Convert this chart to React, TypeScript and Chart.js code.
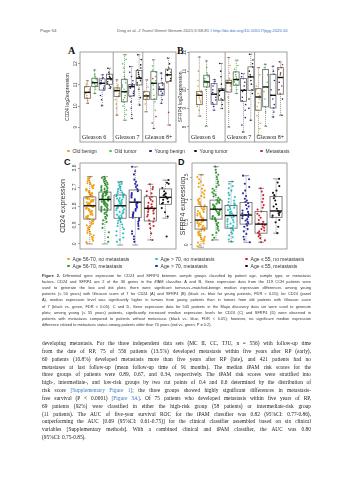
import React, { useEffect, useRef } from "react";
import { Chart, registerables } from "chart.js";
Chart.register(...registerables);

// ================= DATA =================
const gleasonGroups = ["Gleason 6", "Gleason 7", "Gleason 8+"];
const legendAB = ["Old benign", "Old tumor", "Young benign", "Young tumor", "Metastasis"];
const legendCD = [
  "Age 56-70, no metastasis",
  "Age > 70, no metastasis",
  "Age \u2264 55, no metastasis",
  "Age 56-70, metastasis",
  "Age > 70, metastasis",
  "Age \u2264 55, metastasis",
];

const ticksA = [9, 10, 11, 12];
const ticksB = [8, 9, 10, 11, 12];
const ticksC = [0, 0.9, 1.8, 2.7, 3.6];
const ticksD = [0, 0.5, 1, 1.5];
const tickLabelsA = ["9", "10", "11", "12"];
const tickLabelsB = ["8", "9", "10", "11", "12"];
const tickLabelsC = ["0", "0.9", "1.8", "2.7", "3.6"];
const tickLabelsD = ["0", "0.5", "1", "1.5"];

// legend kind of each box (index into legendAB): Gleason 6 | Gleason 7 | Gleason 8+
const kindAB = [0, 1, 2, 3, 0, 1, 2, 3, 0, 1, 2, 3];
// legend kind of each box in C/D (index into legendCD)
const kindCD = [0, 3, 1, 4, 2, 5];

// box statistics: [low whisker, Q1, median, Q3, high whisker]
const statsA = [
  [10.13, 10.37, 10.65, 10.92, 11.2],
  [10.6, 10.92, 11.11, 11.32, 11.71],
  [10.02, 10.76, 11.08, 11.29, 11.48],
  [10.84, 11.03, 11.29, 11.51, 11.79],
  [9.57, 10.45, 10.73, 10.86, 11.24],
  [9.33, 10.2, 10.68, 11.27, 12.43],
  [9.41, 10.48, 10.92, 11.02, 11.87],
  [10.05, 11.0, 11.32, 11.68, 12.43],
  [9.73, 10.32, 10.48, 10.68, 11.24],
  [8.94, 10.32, 11.08, 11.63, 12.19],
  [10.13, 10.52, 10.8, 11.08, 11.56],
  [9.1, 11.16, 11.48, 11.75, 12.27],
];
const dotsA = [
  [11.2, 11.05, 10.95, 10.9, 10.8, 10.7, 10.65, 10.6, 10.5, 10.4, 10.35, 10.25, 10.13],
  [11.71, 11.5, 11.4, 11.32, 11.25, 11.15, 11.1, 11.05, 10.98, 10.92, 10.8, 10.6],
  [11.48, 11.35, 11.3, 11.2, 11.1, 11.05, 10.95, 10.85, 10.76, 10.5, 10.3, 10.02],
  [11.79, 11.6, 11.5, 11.4, 11.35, 11.3, 11.25, 11.15, 11.05, 11.0, 10.9, 10.84],
  [11.24, 11.0, 10.9, 10.85, 10.8, 10.75, 10.72, 10.7, 10.6, 10.5, 10.45, 10.3, 10.1, 9.9, 9.57],
  [12.43, 12.2, 12.0, 11.8, 11.6, 11.4, 11.3, 11.25, 11.1, 11.0, 10.9, 10.8, 10.7, 10.65, 10.5, 10.4, 10.3, 10.2, 10.0, 9.8, 9.6, 9.33],
  [11.87, 11.6, 11.4, 11.2, 11.05, 11.0, 10.97, 10.93, 10.9, 10.85, 10.7, 10.6, 10.5, 10.45, 10.2, 9.9, 9.6, 9.41],
  [12.43, 12.2, 11.95, 11.8, 11.7, 11.6, 11.5, 11.4, 11.35, 11.3, 11.2, 11.1, 11.0, 10.8, 10.4, 10.05],
  [11.24, 10.9, 10.7, 10.65, 10.55, 10.5, 10.45, 10.4, 10.35, 10.3, 10.1, 9.73],
  [12.19, 11.9, 11.7, 11.6, 11.4, 11.2, 11.1, 11.0, 10.8, 10.5, 10.35, 10.2, 9.8],
  [11.56, 11.3, 11.1, 11.0, 10.9, 10.8, 10.7, 10.6, 10.5, 10.3, 10.13],
  [12.0, 11.8, 11.7, 11.5, 11.45, 11.3, 11.2],
];
const metDotsA = [[], [], [], [], [], [], [], [], [], [11.3, 9.5, 9.2, 8.94], [], [12.27, 11.6, 11.1, 9.7, 9.1]];

const statsB = [
  [8.58, 9.2, 9.7, 9.9, 11.76],
  [8.04, 10.15, 10.42, 10.78, 11.55],
  [8.9, 9.22, 9.76, 10.33, 10.55],
  [8.99, 9.44, 9.97, 10.06, 11.41],
  [8.0, 9.88, 10.37, 10.51, 11.73],
  [9.8, 10.24, 10.55, 10.96, 11.59],
  [7.73, 9.38, 9.97, 10.6, 10.87],
  [8.36, 9.97, 10.69, 11.23, 11.91],
  [7.55, 8.9, 9.61, 10.06, 11.19],
  [8.04, 9.08, 10.15, 11.09, 11.37],
  [8.54, 9.02, 9.7, 10.83, 11.26],
  [8.63, 9.76, 10.66, 11.19, 11.5],
];
const dotsB = [
  [11.76, 11.0, 10.5, 10.2, 9.95, 9.9, 9.85, 9.8, 9.75, 9.7, 9.6, 9.5, 9.4, 9.3, 9.2, 9.1, 8.9, 8.58],
  [11.55, 11.2, 10.9, 10.8, 10.7, 10.6, 10.5, 10.45, 10.4, 10.35, 10.25, 10.15, 10.0, 8.04],
  [10.55, 10.45, 10.33, 10.2, 10.0, 9.85, 9.76, 9.6, 9.45, 9.3, 9.22, 9.1, 8.9],
  [11.41, 11.0, 10.7, 10.3, 10.06, 10.0, 9.97, 9.9, 9.7, 9.5, 9.44, 9.2, 8.99],
  [11.73, 11.3, 10.9, 10.6, 10.5, 10.45, 10.4, 10.37, 10.3, 10.2, 10.0, 9.9, 9.6, 9.3, 8.8, 8.0],
  [11.59, 11.3, 11.1, 10.96, 10.8, 10.7, 10.6, 10.55, 10.5, 10.45, 10.4, 10.3, 10.24, 10.0, 9.8],
  [10.87, 10.7, 10.6, 10.4, 10.2, 10.0, 9.97, 9.9, 9.6, 9.4, 9.2, 8.9, 8.5, 8.1, 7.73],
  [11.91, 11.6, 11.4, 11.23, 11.0, 10.8, 10.69, 10.5, 10.3, 10.0, 9.8, 9.5, 9.0, 8.36],
  [11.19, 10.8, 10.2, 10.0, 9.8, 9.7, 9.61, 9.5, 9.3, 9.1, 8.9, 8.6, 8.2, 7.9, 7.55],
  [11.37, 11.2, 11.09, 10.8, 10.4, 10.15, 9.9, 9.5, 9.1, 8.8, 8.04],
  [11.26, 11.0, 10.83, 10.5, 10.0, 9.7, 9.5, 9.2, 9.02, 8.8, 8.54],
  [11.19, 10.9, 10.66, 10.4, 10.0, 9.5, 8.63],
];
const metDotsB = [[], [], [], [], [], [], [], [], [], [], [], [11.5, 11.35, 11.1, 10.8, 10.2, 9.8]];

const statsC = [
  [0.0, 1.18, 1.81, 2.23, 3.19],
  [0.0, 1.61, 2.11, 2.46, 3.19],
  [-0.05, 1.22, 1.81, 2.32, 2.95],
  [-0.05, 1.25, 1.98, 2.56, 3.66],
  [0.19, 1.09, 1.69, 2.24, 2.83],
  [1.22, 1.88, 2.21, 2.61, 3.03],
];
const dotsC = [
  [3.19, 3.08, 2.97, 2.88, 2.79, 2.71, 2.64, 2.58, 2.5, 2.44, 2.38, 2.33, 2.29, 2.25, 2.21, 2.17, 2.12, 2.08, 2.04, 2.0, 1.96, 1.92, 1.88, 1.84, 1.81, 1.78, 1.74, 1.7, 1.65, 1.6, 1.55, 1.49, 1.43, 1.37, 1.3, 1.24, 1.18, 1.1, 1.02, 0.93, 0.84, 0.74, 0.63, 0.52, 0.4, 0.28, 0.15, 0.04,
    3.14, 3.02, 2.92, 2.84, 2.75, 2.67, 2.61, 2.54, 2.47, 2.41, 2.36, 2.31, 2.27, 2.23, 2.19, 2.14, 2.1, 2.06, 2.02, 1.98, 1.94, 1.9, 1.86, 1.82, 1.79, 1.76, 1.72, 1.67, 1.62, 1.57, 1.52, 1.46, 1.4, 1.33, 1.27, 1.21, 1.14, 1.06, 0.97, 0.88, 0.79, 0.69, 0.58, 0.46, 0.34, 0.22, 0.09],
  [3.19, 3.1, 3.0, 2.91, 2.83, 2.75, 2.68, 2.61, 2.55, 2.5, 2.46, 2.42, 2.38, 2.33, 2.28, 2.24, 2.2, 2.15, 2.11, 2.07, 2.03, 1.98, 1.93, 1.88, 1.82, 1.76, 1.7, 1.64, 1.58, 1.5, 1.4, 1.28, 1.12, 0.95, 0.76, 0.55, 0.32, 0.1,
    3.14, 3.05, 2.95, 2.87, 2.79, 2.71, 2.64, 2.58, 2.52, 2.48, 2.44, 2.4, 2.35, 2.3, 2.26, 2.22, 2.17, 2.13, 2.09, 2.05, 2.0, 1.95, 1.9, 1.85, 1.79, 1.73, 1.67, 1.61, 1.54, 1.45, 1.34, 1.2, 1.04],
  [2.95, 2.85, 2.72, 2.6, 2.5, 2.41, 2.35, 2.3, 2.22, 2.15, 2.08, 2.0, 1.93, 1.86, 1.81, 1.75, 1.68, 1.6, 1.52, 1.44, 1.35, 1.27, 1.2, 1.1, 0.98, 0.85, 0.7, 0.5, 0.3, 0.1,
    2.9, 2.78, 2.66, 2.55, 2.45, 2.38, 2.32, 2.26, 2.18, 2.11, 2.04, 1.96, 1.89, 1.83, 1.78, 1.71, 1.64, 1.56, 1.48, 1.39, 1.31, 1.24, 1.15, 1.04, 0.92, 0.78, 0.6, 0.4, 0.2],
  [3.66, 3.3, 3.05, 2.85, 2.7, 2.6, 2.5, 2.35, 2.2, 2.05, 1.98, 1.9, 1.78, 1.65, 1.5, 1.38, 1.28, 1.2, 1.05, 0.85, 0.6, 0.35, 0.1,
    3.45, 2.95, 2.78, 2.55, 2.42, 2.28, 2.12, 1.94, 1.84, 1.72, 1.58, 1.44, 1.33, 1.24, 1.12, 0.95, 0.72, 0.48, 0.22],
  [2.83, 2.6, 2.4, 2.24, 2.1, 1.95, 1.8, 1.72, 1.66, 1.58, 1.45, 1.3, 1.12, 0.95, 0.75, 0.5, 0.19,
    2.7, 2.5, 2.3, 2.18, 2.02, 1.88, 1.76, 1.69, 1.62, 1.52, 1.38, 1.2, 1.05, 0.85],
  [3.03, 2.85, 2.65, 2.5, 2.35, 2.25, 2.21, 2.15, 2.0, 1.9, 1.7, 1.5, 1.3, 0.35, 2.9, 2.4, 2.3, 2.1, 1.95],
];

const statsD = [
  [-0.05, 0.35, 0.55, 0.85, 1.55],
  [0.11, 0.57, 0.79, 0.99, 1.73],
  [0.07, 0.37, 0.65, 0.87, 1.4],
  [0.06, 0.46, 0.66, 0.94, 1.53],
  [0.06, 0.26, 0.46, 0.74, 1.25],
  [0.26, 0.61, 0.75, 1.07, 1.46],
];
const dotsD = [
  [1.55, 1.45, 1.36, 1.28, 1.2, 1.12, 1.05, 0.99, 0.94, 0.89, 0.85, 0.81, 0.77, 0.73, 0.69, 0.65, 0.62, 0.59, 0.56, 0.53, 0.5, 0.47, 0.44, 0.41, 0.38, 0.35, 0.32, 0.28, 0.24, 0.2, 0.16, 0.12, 0.08, 0.03, -0.03,
    1.5, 1.4, 1.32, 1.24, 1.16, 1.08, 1.02, 0.96, 0.91, 0.87, 0.83, 0.79, 0.75, 0.71, 0.67, 0.63, 0.6, 0.57, 0.54, 0.51, 0.48, 0.45, 0.42, 0.39, 0.36, 0.33, 0.3, 0.26, 0.22, 0.18, 0.14, 0.1, 0.05, 0.0],
  [1.73, 1.6, 1.5, 1.4, 1.32, 1.24, 1.16, 1.1, 1.04, 0.99, 0.95, 0.91, 0.87, 0.83, 0.79, 0.76, 0.72, 0.68, 0.64, 0.6, 0.57, 0.52, 0.46, 0.4, 0.32, 0.22, 0.11,
    1.66, 1.55, 1.45, 1.36, 1.28, 1.2, 1.13, 1.07, 1.01, 0.97, 0.93, 0.89, 0.85, 0.81, 0.77, 0.74, 0.7, 0.66, 0.62, 0.58, 0.54, 0.49, 0.43, 0.36, 0.27, 0.16],
  [1.4, 1.3, 1.2, 1.1, 1.02, 0.95, 0.9, 0.87, 0.82, 0.77, 0.72, 0.68, 0.65, 0.6, 0.55, 0.5, 0.45, 0.4, 0.37, 0.32, 0.25, 0.17, 0.07,
    1.35, 1.25, 1.15, 1.06, 0.98, 0.92, 0.88, 0.84, 0.79, 0.74, 0.7, 0.66, 0.62, 0.57, 0.52, 0.47, 0.42, 0.38, 0.34, 0.28, 0.21, 0.12],
  [1.53, 1.35, 1.2, 1.08, 0.98, 0.92, 0.85, 0.76, 0.7, 0.66, 0.62, 0.57, 0.51, 0.46, 0.4, 0.3, 0.18, 0.06,
    1.45, 1.28, 1.14, 1.02, 0.95, 0.88, 0.8, 0.73, 0.68, 0.64, 0.59, 0.54, 0.48, 0.43, 0.35, 0.24, 0.12],
  [1.25, 1.1, 0.95, 0.82, 0.74, 0.65, 0.55, 0.48, 0.44, 0.38, 0.32, 0.27, 0.22, 0.15, 0.06,
    1.18, 1.02, 0.88, 0.78, 0.69, 0.6, 0.51, 0.46, 0.41, 0.35, 0.3, 0.25, 0.19, 0.1],
  [1.46, 1.3, 1.15, 1.07, 0.98, 0.9, 0.8, 0.75, 0.7, 0.65, 0.61, 0.5, 0.4, 0.26, 1.38, 1.2, 1.1, 1.03, 0.85, 0.72, 0.66, 0.55],
];

const headerPage = "Page 54";
const headerCite = "Ding et al. ";
const headerJournal = "J Transl Genet Genom";
const headerRest = " 2021;5:58-81";
const headerLink = "http://dx.doi.org/10.20517/jtgg.2020.61";

const captionLines = [
  " Differential gene expression for CD24 and SFRP4 between sample groups classified by patient age, sample type, or metastasis",
  "factors. CD24 and SFRP4 are 2 of the 36 genes in the iPAM classifier. A and B, Gene expression data from the 119 CCH patients were",
  "used to generate the box and dot plots; there were significant tumor-vs.-matched-benign median expression differences among young",
  "patients (\u2264 50 years) with Gleason score of 7 for CD24 (A) and SFRP4 (B) (black vs. blue for young patients, FDR < 0.05); for CD24 (panel",
  "A), median expression level was significantly higher in tumors from young patients than in tumors from old patients with Gleason score",
  "of 7 (black vs. green, FDR < 0.05). C and D, Gene expression data for 545 patients in the Mayo discovery data set were used to generate",
  "plots; among young (\u2264 55 years) patients, significantly increased median expression levels for CD24 (C) and SFRP4 (D) were observed in",
  "patients with metastasis compared to patients without metastasis (black vs. blue, FDR < 0.05); however, no significant median expression",
  "difference related to metastasis status among patients older than 70 years (red vs. green, P = 0.2).",
];

// body text lines; [text, isLink] segments
const bodyLines: [string, boolean][][] = [
  [["developing metastasis. For the three independent data sets (MC II, CC, TJU, n = 556) with follow-up time", false]],
  [["from the date of RP, 75 of 556 patients (13.5%) developed metastasis within five years after RP (early),", false]],
  [["60 patients (10.8%) developed metastasis more than five years after RP (late), and 421 patients had no", false]],
  [["metastases at last follow-up (mean follow-up time of 91 months). The median iPAM risk scores for the", false]],
  [["three groups of patients were 0.89, 0.67, and 0.34, respectively. The iPAM risk scores were stratified into", false]],
  [["high-, intermediate-, and low-risk groups by two cut points of 0.4 and 0.6 determined by the distribution of", false]],
  [["risk score ", false], ["[Supplementary Figure 1]", true], ["; the three groups showed highly significant differences in metastasis-", false]],
  [["free survival (P < 0.0001) ", false], ["[Figure 3A]", true], [". Of 75 patients who developed metastasis within five years of RP,", false]],
  [["69 patients (92%) were classified in either the high-risk group (58 patients) or intermediate-risk group", false]],
  [["(11 patients). The AUC of five-year survival ROC for the iPAM classifier was 0.82 (95%CI: 0.77-0.86),", false]],
  [["outperforming the AUC [0.69 (95%CI: 0.61-0.75)] for the clinical classifier assembled based on six clinical", false]],
  [["variables [Supplementary methods]. With a combined clinical and iPAM classifier, the AUC was 0.80", false]],
  [["(95%CI: 0.75-0.85).", false]],
];

// ================= STYLE =================
const colorsAB = ["#E2A02C", "#3FCF3F", "#22229C", "#111111", "#D0262E"];
const colorsCD = ["#F4A30F", "#2CC2CA", "#D1232B", "#2F9B2F", "#2525A8", "#111111"];
const JITTER = [0.1, -0.6, 0.8, -0.2, 0.5, -0.9, 0.3, -0.45, 0.95, -0.75, 0.0, 0.65, -0.1, 0.4, -0.55, 0.75, -0.3, 0.2, -0.85, 0.55];
const SANS = '"Liberation Sans", Arial, sans-serif';
const SERIF = '"Liberation Serif", "Times New Roman", serif';

type Spec = {
  stats: number[][];
  dots: number[][];
  extra?: number[][];
  colors: string[];
  extraColor?: string;
  xMin: number; xMax: number; yMin: number; yMax: number;
  ticks: number[]; tickLabels: string[];
  title: string; titleSize: number; titlePad: number;
  yWidth: number; pad: { left: number; right: number; top: number; bottom: number };
  tickSize: number; tickGap: number;
  boxHalf: number; jitter: number; radius: number;
  separators?: number[]; sections?: string[];
  frame: string;
  left: number; top: number; width: number; height: number;
};

function BoxPanel({ spec }: { spec: Spec }) {
  const ref = useRef<HTMLCanvasElement>(null);
  useEffect(() => {
    const canvas = ref.current;
    if (!canvas) return;
    const datasets: any[] = [];
    spec.dots.forEach((arr, i) => {
      datasets.push({
        data: arr.map((v, j) => ({ x: i + 1 + JITTER[(j * 7 + i * 3) % JITTER.length] * spec.jitter, y: v })),
        pointRadius: spec.radius,
        pointHoverRadius: spec.radius,
        pointBackgroundColor: spec.colors[i],
        pointBorderWidth: 0,
        borderWidth: 0,
        showLine: false,
      });
    });
    (spec.extra || []).forEach((arr, i) => {
      if (!arr.length) return;
      datasets.push({
        data: arr.map((v, j) => ({ x: i + 1 + JITTER[(j + 7) % JITTER.length] * spec.jitter, y: v })),
        pointRadius: spec.radius,
        pointHoverRadius: spec.radius,
        pointBackgroundColor: spec.extraColor,
        pointBorderWidth: 0,
        borderWidth: 0,
        showLine: false,
      });
    });
    const line = (ctx: CanvasRenderingContext2D, x1: number, y1: number, x2: number, y2: number) => {
      ctx.beginPath();
      ctx.moveTo(x1, y1);
      ctx.lineTo(x2, y2);
      ctx.stroke();
    };
    const plugin = {
      id: "boxdraw",
      beforeDatasetsDraw(chart: any) {
        const { ctx, chartArea: a, scales } = chart;
        const x = scales.x;
        ctx.save();
        ctx.strokeStyle = spec.frame;
        ctx.lineWidth = 0.8;
        (spec.separators || []).forEach((s) => {
          const px = x.getPixelForValue(s);
          line(ctx, px, a.top, px, a.bottom);
        });
        if (spec.sections) {
          ctx.font = `6px ${SERIF}`;
          ctx.fillStyle = "#222";
          ctx.textAlign = "left";
          ctx.textBaseline = "middle";
          spec.sections.forEach((lab, k) => {
            const start = k === 0 ? spec.xMin : spec.separators![k - 1];
            ctx.fillText(lab, x.getPixelForValue(start) + 2, a.bottom - 5);
          });
        }
        ctx.restore();
      },
      afterDatasetsDraw(chart: any) {
        const { ctx, chartArea: a, scales } = chart;
        const x = scales.x;
        const y = scales.y;
        ctx.save();
        spec.stats.forEach((s, i) => {
          const cx = x.getPixelForValue(i + 1);
          const hw = x.getPixelForValue(i + 1 + spec.boxHalf) - cx;
          const [lo, q1, md, q3, hi] = s.map((v) => y.getPixelForValue(v));
          ctx.strokeStyle = "#555";
          ctx.lineWidth = 0.6;
          ctx.setLineDash([1, 1]);
          line(ctx, cx, q1, cx, lo);
          line(ctx, cx, q3, cx, hi);
          ctx.setLineDash([]);
          line(ctx, cx - hw / 2, lo, cx + hw / 2, lo);
          line(ctx, cx - hw / 2, hi, cx + hw / 2, hi);
          ctx.strokeStyle = "#666";
          ctx.lineWidth = 0.8;
          ctx.strokeRect(cx - hw, q3, hw * 2, q1 - q3);
          ctx.strokeStyle = "#111";
          ctx.lineWidth = 1.4;
          line(ctx, cx - hw, md, cx + hw, md);
        });
        ctx.strokeStyle = spec.frame;
        ctx.lineWidth = 0.8;
        ctx.strokeRect(a.left, a.top, a.right - a.left, a.bottom - a.top);
        ctx.font = `${spec.tickSize}px ${SANS}`;
        ctx.fillStyle = "#444";
        ctx.textAlign = "center";
        ctx.textBaseline = "middle";
        spec.ticks.forEach((t, k) => {
          const py = y.getPixelForValue(t);
          ctx.save();
          ctx.translate(a.left - spec.tickGap, py);
          ctx.rotate(-Math.PI / 2);
          ctx.fillText(spec.tickLabels[k], 0, 0);
          ctx.restore();
        });
        ctx.restore();
      },
    };
    const chart = new Chart(canvas, {
      type: "scatter",
      data: { datasets },
      options: {
        animation: false,
        responsive: false,
        events: [],
        layout: { padding: spec.pad },
        plugins: { legend: { display: false }, tooltip: { enabled: false } },
        scales: {
          x: { type: "linear", min: spec.xMin, max: spec.xMax, display: false },
          y: {
            type: "linear",
            position: "left",
            min: spec.yMin,
            max: spec.yMax,
            afterBuildTicks: (s: any) => {
              s.ticks = spec.ticks.map((v) => ({ value: v }));
            },
            afterFit: (s: any) => {
              s.width = spec.yWidth;
            },
            ticks: { display: false },
            grid: { drawOnChartArea: false, drawTicks: true, tickLength: 2, color: "#666", lineWidth: 0.6 },
            border: { display: false },
            title: {
              display: true,
              text: spec.title,
              color: "#333",
              font: { family: SANS, size: spec.titleSize },
              padding: { top: spec.titlePad, bottom: 0 },
            },
          },
        },
      } as any,
      plugins: [plugin],
    });
    return () => chart.destroy();
  }, [spec]);
  return (
    <canvas
      ref={ref}
      width={spec.width}
      height={spec.height}
      style={{ position: "absolute", left: spec.left, top: spec.top, width: spec.width, height: spec.height }}
    />
  );
}

const specA: Spec = {
  stats: statsA, dots: dotsA, extra: metDotsA,
  colors: kindAB.map((k) => colorsAB[k]), extraColor: colorsAB[4],
  xMin: 0, xMax: 13, yMin: 8.3, yMax: 12.56,
  ticks: ticksA, tickLabels: tickLabelsA,
  title: "CD24 log2expression", titleSize: 5, titlePad: 7,
  yWidth: 22, pad: { left: 0, right: 2, top: 5, bottom: 2 },
  tickSize: 4.5, tickGap: 4.5,
  boxHalf: 0.4, jitter: 0.3, radius: 0.8,
  separators: [4.5, 8.5], sections: gleasonGroups, frame: "#888",
  left: 58, top: 47, width: 120, height: 97,
};
const specB: Spec = {
  stats: statsB, dots: dotsB, extra: metDotsB,
  colors: kindAB.map((k) => colorsAB[k]), extraColor: colorsAB[4],
  xMin: -0.4, xMax: 12.9, yMin: 7.19, yMax: 12.03,
  ticks: ticksB, tickLabels: tickLabelsB,
  title: "SFRP4 log2expression", titleSize: 5, titlePad: 6,
  yWidth: 17, pad: { left: 0, right: 2, top: 5, bottom: 2 },
  tickSize: 4.5, tickGap: 4.5,
  boxHalf: 0.4, jitter: 0.3, radius: 0.8,
  separators: [4.5, 8.5], sections: gleasonGroups, frame: "#888",
  left: 172, top: 47, width: 117, height: 97,
};
const specC: Spec = {
  stats: statsC, dots: dotsC,
  colors: kindCD.map((k) => colorsCD[k]),
  xMin: 0.35, xMax: 6.7, yMin: -0.24, yMax: 3.84,
  ticks: ticksC, tickLabels: tickLabelsC,
  title: "CD24 expression", titleSize: 7, titlePad: 4.8,
  yWidth: 26, pad: { left: 0, right: 2, top: 5, bottom: 2 },
  tickSize: 5, tickGap: 5,
  boxHalf: 0.4, jitter: 0.27, radius: 1.05,
  frame: "#888",
  left: 54, top: 158, width: 124, height: 93,
};
const specD: Spec = {
  stats: statsD, dots: dotsD,
  colors: kindCD.map((k) => colorsCD[k]),
  xMin: 0.4, xMax: 6.73, yMin: -0.09, yMax: 1.81,
  ticks: ticksD, tickLabels: tickLabelsD,
  title: "SFRP4 expression", titleSize: 7, titlePad: 2.8,
  yWidth: 16, pad: { left: 0, right: 2, top: 5, bottom: 2 },
  tickSize: 5, tickGap: 5,
  boxHalf: 0.4, jitter: 0.27, radius: 1.05,
  frame: "#888",
  left: 176, top: 158, width: 113, height: 93,
};

function Dot({ color }: { color: string }) {
  return (
    <span
      style={{
        display: "inline-block",
        width: 2.6,
        height: 2.6,
        borderRadius: "50%",
        background: color,
        marginRight: 3,
        verticalAlign: "middle",
      }}
    />
  );
}

const abs = (left: number, top: number, extra: any = {}) => ({ position: "absolute" as const, left, top, ...extra });

export default function App() {
  const legendABPos = [67, 109, 149, 194, 260];
  const legendCDPos = [67, 155, 245];
  const cdOrder = [0, 1, 2, 3, 4, 5];
  return (
    <div style={{ position: "absolute", left: 0, top: 0, width: 353, height: 480, background: "#fff", overflow: "hidden" }}>
      {/* header */}
      <div style={abs(40, 28, { font: `4.4px ${SANS}`, color: "#555", lineHeight: "6px", whiteSpace: "nowrap" })}>{headerPage}</div>
      <div style={abs(117, 28, { font: `4.4px ${SANS}`, color: "#555", lineHeight: "6px", whiteSpace: "nowrap" })}>
        {headerCite}
        <i>{headerJournal}</i>
        {headerRest}
        {"  I  "}
        <span style={{ color: "#3B78C2" }}>{headerLink}</span>
      </div>

      {/* panel letters */}
      <div style={abs(68, 45, { font: `bold 10px ${SERIF}`, color: "#111", lineHeight: "12px" })}>A</div>
      <div style={abs(177, 45, { font: `bold 10px ${SERIF}`, color: "#111", lineHeight: "12px" })}>B</div>
      <div style={abs(64, 157, { font: `bold 9px ${SANS}`, color: "#111", lineHeight: "10px" })}>C</div>
      <div style={abs(178, 157, { font: `bold 9px ${SANS}`, color: "#111", lineHeight: "10px" })}>D</div>

      <BoxPanel spec={specA} />
      <BoxPanel spec={specB} />
      <BoxPanel spec={specC} />
      <BoxPanel spec={specD} />

      {/* legend A/B */}
      {legendAB.map((t, i) => (
        <div key={t} style={abs(legendABPos[i], 147.5, { font: `5px ${SANS}`, color: "#333", lineHeight: "7px", whiteSpace: "nowrap" })}>
          <Dot color={colorsAB[i]} />
          {t}
        </div>
      ))}
      {/* legend C/D */}
      {cdOrder.map((k) => (
        <div
          key={legendCD[k]}
          style={abs(legendCDPos[k % 3], k < 3 ? 255.5 : 262.5, { font: `5px ${SANS}`, color: "#333", lineHeight: "7px", whiteSpace: "nowrap" })}
        >
          <Dot color={colorsCD[k]} />
          {legendCD[k]}
        </div>
      ))}

      {/* caption */}
      <div style={abs(42, 272.9, { width: 269, font: `3.9px ${SANS}`, color: "#333" })}>
        {captionLines.map((ln, i) => (
          <div
            key={i}
            style={{
              height: 6.15,
              lineHeight: "6.15px",
              whiteSpace: "nowrap",
              textAlign: "justify",
              textAlignLast: i === captionLines.length - 1 ? "left" : "justify",
            }}
          >
            {i === 0 ? <b>Figure 2.</b> : null}
            {ln}
          </div>
        ))}
      </div>

      {/* body */}
      <div style={abs(42, 340.1, { width: 269, font: `5.4px ${SERIF}`, color: "#222" })}>
        {bodyLines.map((segs, i) => (
          <div
            key={i}
            style={{
              height: 7.83,
              lineHeight: "7.83px",
              whiteSpace: "nowrap",
              textAlign: "justify",
              textAlignLast: i === bodyLines.length - 1 ? "left" : "justify",
            }}
          >
            {segs.map(([t, link], j) => (
              <span key={j} style={link ? { color: "#3B78C2" } : undefined}>
                {t}
              </span>
            ))}
          </div>
        ))}
      </div>
    </div>
  );
}
